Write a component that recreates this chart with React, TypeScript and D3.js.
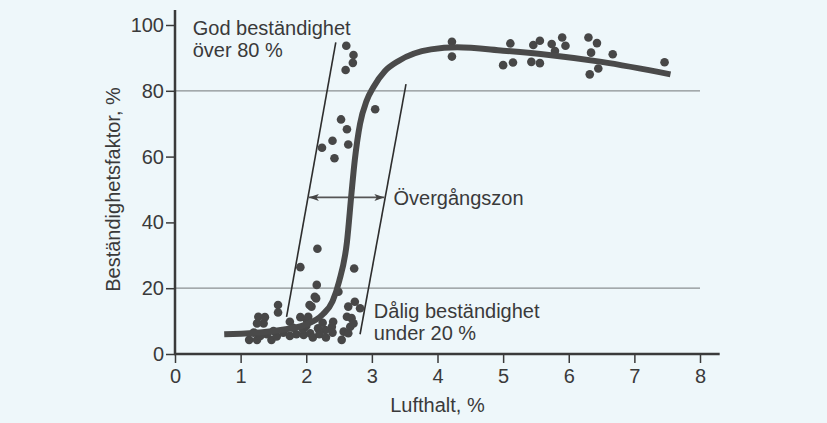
import * as d3 from "d3"
import React from "react"

// S-shaped trend curve (luft %, beständighetsfaktor %)
const curveX = [0.75, 1.5, 2.0, 2.25, 2.4, 2.5, 2.62, 2.69, 2.74, 2.82, 2.92, 3.02, 3.2, 3.4, 3.9, 4.3, 5.0, 5.7, 6.5, 7.55]
const curveY = [6, 7, 9, 12, 16, 22, 34, 49, 59, 70, 77, 81, 86, 89, 92.6, 93.2, 92.2, 90.9, 88.8, 85]

// measured points, bottom band
const lowDots = [
  [2.16, 21.0], [2.13, 17.4], [2.08, 14.4], [2.49, 18.9], [2.64, 14.4], [2.74, 15.9], [2.82, 13.9],
  [2.62, 11.3], [2.69, 10.9], [2.41, 9.8], [2.39, 8.3], [2.67, 8.3], [2.72, 9.3], [2.57, 6.8],
  [2.64, 6.3], [2.54, 4.3], [2.29, 7.3], [2.18, 7.8], [2.01, 10.3], [1.96, 5.8], [2.06, 6.3],
  [1.57, 14.9], [1.57, 12.6], [1.27, 11.3], [1.37, 11.2], [1.35, 9.3], [1.25, 9.3], [1.75, 9.8],
  [1.91, 11.2], [2.03, 11.3], [2.05, 14.9], [2.15, 16.9], [1.13, 4.3], [1.25, 4.3], [1.47, 4.3],
  [1.55, 5.3], [1.65, 6.5], [1.75, 5.5], [1.85, 6], [1.95, 7.5], [2.1, 5], [2.2, 6], [2.3, 5],
  [2.4, 6.5], [1.5, 7], [1.4, 6], [1.2, 6.5], [1.3, 5.5], [2.0, 8.5], [1.8, 8], [2.25, 9.5],
]

// transition zone points
const midDots = [
  [2.61, 93.7], [2.72, 90.9], [2.71, 88.5], [2.60, 86.3], [3.05, 74.4], [2.53, 71.3], [2.62, 68.3],
  [2.40, 64.8], [2.64, 63.7], [2.24, 62.7], [2.43, 59.5], [2.17, 32.0], [1.91, 26.4], [2.73, 26.0],
]

// high durability points
const highDots = [
  [4.22, 94.9], [4.22, 90.4], [5.11, 94.4], [5.0, 87.8], [5.15, 88.6], [5.46, 93.9], [5.56, 95.2],
  [5.43, 88.8], [5.56, 88.4], [5.74, 94.2], [5.79, 92.1], [5.90, 96.2], [5.95, 93.7], [6.30, 96.2],
  [6.43, 94.5], [6.34, 91.6], [6.67, 91.1], [6.32, 85.0], [6.45, 86.8], [7.46, 88.7],
]

// zone boundaries [x, y]
const zoneLeft = [[1.70, 11.3], [2.45, 94.7]]
const zoneRight = [[2.82, 6], [3.52, 82]]
const zoneArrow = [[2.04, 47.6], [3.19, 47.6]]

const xTicks = [0, 1, 2, 3, 4, 5, 6, 7, 8]
const yTicks = [0, 20, 40, 60, 80, 100]
const gridValues = [20, 80]

const notes = [
  { x: 0.27, y: 97, text: "God beständighet" },
  { x: 0.27, y: 90.3, text: "över 80 %" },
  { x: 3.33, y: 45.4, text: "Övergångszon" },
  { x: 3.03, y: 11.0, text: "Dålig beständighet" },
  { x: 3.03, y: 4.3, text: "under 20 %" },
]

const width = 827
const height = 423
const ink = "#3a3a3a"
const font = "'Liberation Sans', Arial, sans-serif"

const drawChart = (el: SVGSVGElement) => {
  const svg = d3.select(el)
  svg.selectAll("*").remove()

  const x = d3.scaleLinear([0, 8], [175, 700])
  const y = d3.scaleLinear([0, 100], [354, 25])

  svg.append("rect").attr("width", width).attr("height", height).attr("fill", "#eef7fa")

  // grid lines
  svg.append("g")
    .selectAll("line")
    .data(gridValues)
    .join("line")
    .attr("x1", x(0)).attr("x2", x(8))
    .attr("y1", (d: any) => y(d)).attr("y2", (d: any) => y(d))
    .attr("stroke", "#8a8f91").attr("stroke-width", 1.2)

  // axes
  const yAxis = d3.axisLeft(y).tickValues(yTicks).tickSize(9).tickPadding(2)
  svg.append("g")
    .attr("transform", `translate(${x(0)},0)`)
    .call(yAxis)
    .call((g: any) => g.select(".domain").remove())
    .call((g: any) => g.selectAll(".tick line").attr("stroke", ink).attr("stroke-width", 1.5))
    .call((g: any) => g.selectAll(".tick text").attr("fill", ink).attr("font-size", 20).attr("font-family", font))

  const xAxis = d3.axisBottom(x).tickValues(xTicks).tickSize(9).tickPadding(6)
  svg.append("g")
    .attr("transform", `translate(0,${y(0)})`)
    .call(xAxis)
    .call((g: any) => g.select(".domain").remove())
    .call((g: any) => g.selectAll(".tick line").attr("stroke", ink).attr("stroke-width", 1.5))
    .call((g: any) => g.selectAll(".tick text").attr("fill", ink).attr("font-size", 20).attr("font-family", font))

  svg.append("line")
    .attr("x1", x(0)).attr("x2", x(0)).attr("y1", 10).attr("y2", y(0))
    .attr("stroke", ink).attr("stroke-width", 2.5)
  svg.append("line")
    .attr("x1", x(0) - 1).attr("x2", x(8.3)).attr("y1", y(0)).attr("y2", y(0))
    .attr("stroke", ink).attr("stroke-width", 2.5)

  // axis titles
  svg.append("text")
    .attr("x", x(4)).attr("y", 412)
    .attr("text-anchor", "middle")
    .attr("font-family", font).attr("font-size", 20).attr("fill", ink)
    .text("Lufthalt, %")
  svg.append("text")
    .attr("transform", `translate(120,${y(50)}) rotate(-90)`)
    .attr("text-anchor", "middle")
    .attr("font-family", font).attr("font-size", 20).attr("fill", ink)
    .text("Beständighetsfaktor, %")

  // transition zone lines
  const seg = d3.line().x((d: any) => x(d[0])).y((d: any) => y(d[1]))
  svg.append("path").attr("d", seg(zoneLeft as any)).attr("stroke", "#2e2e2e").attr("stroke-width", 1.6).attr("fill", "none")
  svg.append("path").attr("d", seg(zoneRight as any)).attr("stroke", "#2e2e2e").attr("stroke-width", 1.6).attr("fill", "none")

  const defs = svg.append("defs")
  defs.append("marker")
    .attr("id", "head")
    .attr("viewBox", "0 0 10 10")
    .attr("refX", 10).attr("refY", 5)
    .attr("markerWidth", 10).attr("markerHeight", 10)
    .attr("markerUnits", "userSpaceOnUse")
    .attr("orient", "auto-start-reverse")
    .append("path").attr("d", "M0,1.5L10,5L0,8.5L2.5,5Z").attr("fill", "#444")
  svg.append("path")
    .attr("d", seg(zoneArrow as any))
    .attr("stroke", "#555").attr("stroke-width", 1.6).attr("fill", "none")
    .attr("marker-start", "url(#head)").attr("marker-end", "url(#head)")

  // points
  const dots = [...lowDots, ...midDots, ...highDots]
  svg.append("g")
    .attr("fill", "#474747")
    .selectAll("circle")
    .data(dots)
    .join("circle")
    .attr("cx", (d: any) => x(d[0]))
    .attr("cy", (d: any) => y(d[1]))
    .attr("r", 4.3)

  // trend curve
  const curve = d3.line()
    .x((i: any) => x(curveX[i]))
    .y((i: any) => y(curveY[i]))
    .curve(d3.curveMonotoneX)
  svg.append("path")
    .attr("d", curve(d3.range(curveX.length) as any))
    .attr("fill", "none")
    .attr("stroke", "#4a4a4a")
    .attr("stroke-width", 6)

  // annotations
  svg.append("g")
    .selectAll("text")
    .data(notes)
    .join("text")
    .attr("x", (d: any) => x(d.x))
    .attr("y", (d: any) => y(d.y))
    .attr("font-family", font).attr("font-size", 20).attr("fill", ink)
    .text((d: any) => d.text)
}

const App = () => {
  const ref = React.useRef<SVGSVGElement>(null)
  React.useEffect(() => {
    if (ref.current) drawChart(ref.current)
  }, [])

  return (
    <svg
      ref={ref}
      width={width}
      height={height}
      viewBox={`0 0 ${width} ${height}`}
      style={{ position: "absolute", left: 0, top: 0, display: "block" }}
    />
  )
}

export default App
